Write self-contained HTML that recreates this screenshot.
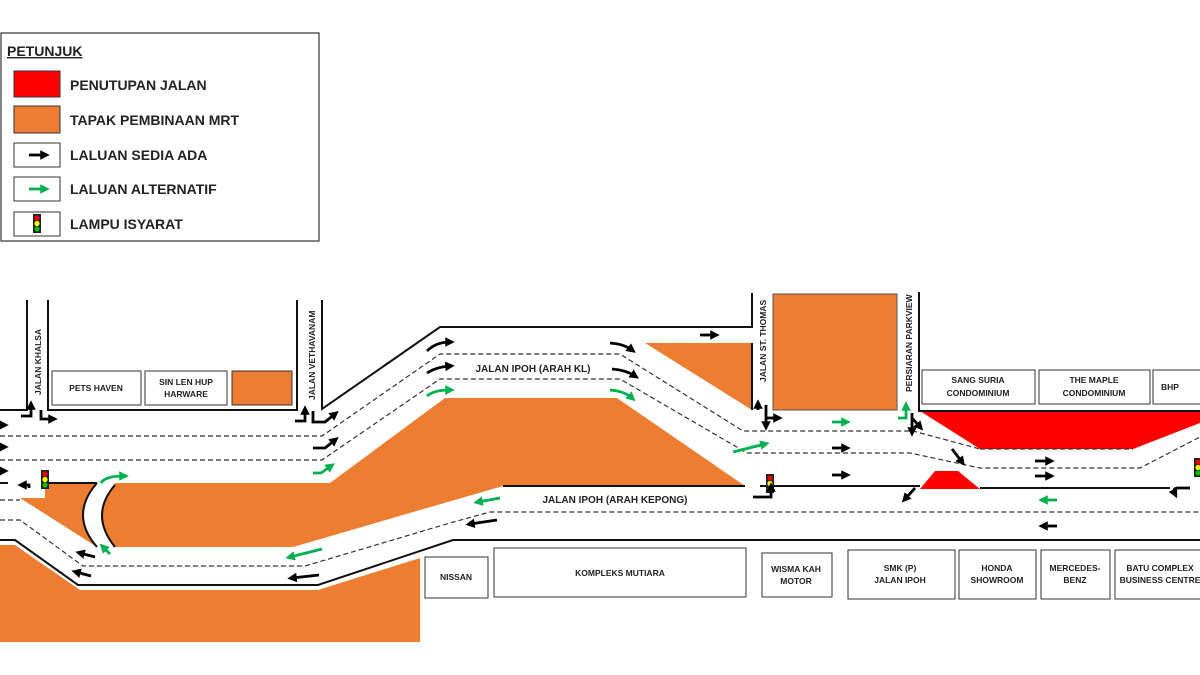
<!DOCTYPE html>
<html><head><meta charset="utf-8"><style>
html,body{margin:0;padding:0;background:#fff}
svg{display:block}
text{font-family:"Liberation Sans",sans-serif;font-weight:bold;fill:#222}
</style></head><body>
<svg width="1200" height="675" viewBox="0 0 1200 675" xmlns="http://www.w3.org/2000/svg">
<defs>
<marker id="ab" viewBox="0 0 10 10" refX="5" refY="5" markerWidth="3.4" markerHeight="3.4" orient="auto"><path d="M0,0L10,5L0,10z" fill="#000"/></marker>
<marker id="ag" viewBox="0 0 10 10" refX="5" refY="5" markerWidth="3.4" markerHeight="3.4" orient="auto"><path d="M0,0L10,5L0,10z" fill="#00B050"/></marker>
<g id="tl"><rect x="0" y="0" width="8" height="19" fill="#222"/><circle cx="4" cy="4" r="2.6" fill="#e00"/><circle cx="4" cy="9.5" r="2.6" fill="#ff0"/><circle cx="4" cy="15" r="2.6" fill="#0b0"/></g>
</defs>

<!-- Legend -->
<rect x="1" y="33" width="318" height="208" fill="#fff" stroke="#333" stroke-width="1.2"/>
<text x="7" y="56" font-size="14" text-decoration="underline">PETUNJUK</text>
<rect x="14" y="71" width="46" height="26" fill="#f00" stroke="#333"/>
<rect x="14" y="106" width="46" height="27" fill="#ED7D31" stroke="#333"/>
<rect x="14" y="143" width="46" height="24" fill="#fff" stroke="#333"/>
<path d="M29,155H45" stroke="#000" stroke-width="2.8" marker-end="url(#ab)"/>
<rect x="14" y="177" width="46" height="24" fill="#fff" stroke="#333"/>
<path d="M29,189H45" stroke="#00B050" stroke-width="2.8" marker-end="url(#ag)"/>
<rect x="14" y="212" width="46" height="24" fill="#fff" stroke="#333"/>
<use href="#tl" x="33" y="214"/>
<g font-size="14"><text x="70" y="90">PENUTUPAN JALAN</text><text x="70" y="125">TAPAK PEMBINAAN MRT</text><text x="70" y="160">LALUAN  SEDIA ADA</text><text x="70" y="194">LALUAN  ALTERNATIF</text><text x="70" y="229">LAMPU ISYARAT</text></g>

<!-- Orange areas -->
<g fill="#ED7D31">
<path d="M115,483H330L445,398H617L745,486H503L420,510L293,547H115Q89,515 115,483Z"/>
<path d="M20,498H45V483H97Q69,515 97,547Z"/>
<path d="M0,545H15L80,590H318L420,558V642H0Z"/>
<path d="M645,343H752V410Z"/>
<rect x="773" y="294" width="124" height="116" stroke="#555" stroke-width="1"/>
<rect x="232" y="371" width="60" height="34" stroke="#333" stroke-width="1"/>
</g>
<!-- Red -->
<path d="M920,411H1200V423L1133,449H980Z" fill="#f00"/>
<path d="M920,489L935,471H958L980,489Z" fill="#f00"/>

<!-- solid lines -->
<g stroke="#111" stroke-width="2" fill="none">
<path d="M0,410H27V300"/>
<path d="M48,300V410H297V300"/>
<path d="M322,300V409L440,327H752V293"/>
<path d="M752,343V410"/>
<path d="M919,292V411H1200"/>
<path d="M0,483H8"/>
<path d="M45,483H97"/>
<path d="M97,483Q69,515 97,547"/>
<path d="M115,485Q89,515 115,547"/>
<path d="M503,486H745"/>
<path d="M760,486H920"/>
<path d="M980,488H1170"/>
<path d="M0,540H15L78,585H318L453,540H1200"/>
</g>
<!-- dashed -->
<g stroke="#333" stroke-width="1.2" fill="none" stroke-dasharray="5,3">
<path d="M0,436H322L440,354H620L743,431H913L980,449"/>
<path d="M0,460H322L440,379H620L747,453H910L980,468H1140L1200,437"/>
<path d="M0,500H20"/>
<path d="M0,520H20L83,566H305L450,523L490,512H1200"/>
<path d="M980,449H1133"/>
</g>

<!-- buildings -->
<g fill="#fff" stroke="#333" stroke-width="1">
<rect x="52" y="371" width="89" height="34"/><rect x="145" y="371" width="82" height="34"/>
<rect x="922" y="370" width="113" height="34"/><rect x="1039" y="370" width="111" height="34"/><rect x="1153" y="370" width="50" height="34"/>
<rect x="425" y="557" width="63" height="41"/><rect x="494" y="548" width="252" height="49"/>
<rect x="762" y="553" width="70" height="44"/><rect x="848" y="550" width="107" height="49"/>
<rect x="959" y="550" width="77" height="49"/><rect x="1041" y="550" width="69" height="49"/><rect x="1115" y="550" width="90" height="49"/>
</g>
<g font-size="8.5" text-anchor="middle">
<text x="96" y="391">PETS HAVEN</text>
<text x="186" y="385">SIN LEN HUP</text><text x="186" y="397">HARWARE</text>
<text x="978" y="383">SANG SURIA</text><text x="978" y="396">CONDOMINIUM</text>
<text x="1094" y="383">THE MAPLE</text><text x="1094" y="396">CONDOMINIUM</text>
<text x="1170" y="390">BHP</text>
<text x="456" y="580">NISSAN</text>
<text x="620" y="576">KOMPLEKS MUTIARA</text>
<text x="796" y="572">WISMA KAH</text><text x="796" y="584">MOTOR</text>
<text x="900" y="571">SMK (P)</text><text x="900" y="583">JALAN IPOH</text>
<text x="997" y="571">HONDA</text><text x="997" y="583">SHOWROOM</text>
<text x="1075" y="571">MERCEDES-</text><text x="1075" y="583">BENZ</text>
<text x="1160" y="571">BATU COMPLEX</text><text x="1160" y="583">BUSINESS CENTRE</text>
<text x="533" y="372" font-size="10">JALAN IPOH (ARAH KL)</text>
<text x="615" y="503" font-size="10">JALAN IPOH (ARAH KEPONG)</text>
</g>
<g font-size="8.5" font-weight="normal">
<text transform="translate(41,395) rotate(-90)">JALAN KHALSA</text>
<text transform="translate(315,400) rotate(-90)">JALAN VETHAVANAM</text>
<text transform="translate(766,382) rotate(-90)">JALAN ST. THOMAS</text>
<text transform="translate(912,392) rotate(-90)">PERSIARAN PARKVIEW</text>
</g>

<!-- traffic lights -->
<use href="#tl" x="41" y="470"/><use href="#tl" x="766" y="474"/><use href="#tl" x="1194" y="458"/>

<!-- black arrows -->
<g stroke="#000" stroke-width="2.8" fill="none" marker-end="url(#ab)">
<path d="M0,425H4"/><path d="M0,447H4"/><path d="M0,471H4"/>
<path d="M21,416H31V405"/><path d="M41,410V419H53"/>
<path d="M295,421H305V410"/><path d="M313,411V422H325L335,414"/>
<path d="M313,448H325L335,440"/>
<path d="M29,488V485H22"/>
<path d="M95,557L80,553"/><path d="M91,576L76,572"/>
<path d="M427,351Q436,342 450,342"/><path d="M427,373Q436,367 450,366"/>
<path d="M610,343Q624,344 632,350"/><path d="M612,369Q626,370 635,376"/>
<path d="M700,335H715"/>
<path d="M758,410V404"/><path d="M766,405V426"/><path d="M766,418H778"/>
<path d="M832,448H846"/><path d="M832,475H846"/>
<path d="M753,497H771V487"/>
<path d="M1035,461H1050"/><path d="M1035,476H1050"/>
<path d="M912,413V432"/><path d="M912,418L920,427"/>
<path d="M952,449L962,462"/>
<path d="M915,488L905,499"/>
<path d="M1190,488H1178Q1172,488 1175,494"/>
<path d="M1057,526H1043"/>
<path d="M497,520L470,524"/>
<path d="M319,575L292,578"/>
</g>
<!-- green arrows -->
<g stroke="#00B050" stroke-width="2.8" fill="none" marker-end="url(#ag)">
<path d="M101,483Q105,476 124,476"/>
<path d="M110,554L103,547"/>
<path d="M313,473H321L331,466"/>
<path d="M427,396Q434,390 450,390"/>
<path d="M610,390Q624,391 632,398"/>
<path d="M733,452L765,444"/>
<path d="M832,422H846"/>
<path d="M898,418H906V406"/>
<path d="M1057,500H1043"/>
<path d="M500,498L478,502"/>
<path d="M322,549L290,557"/>
</g>
</svg>
</body></html>
